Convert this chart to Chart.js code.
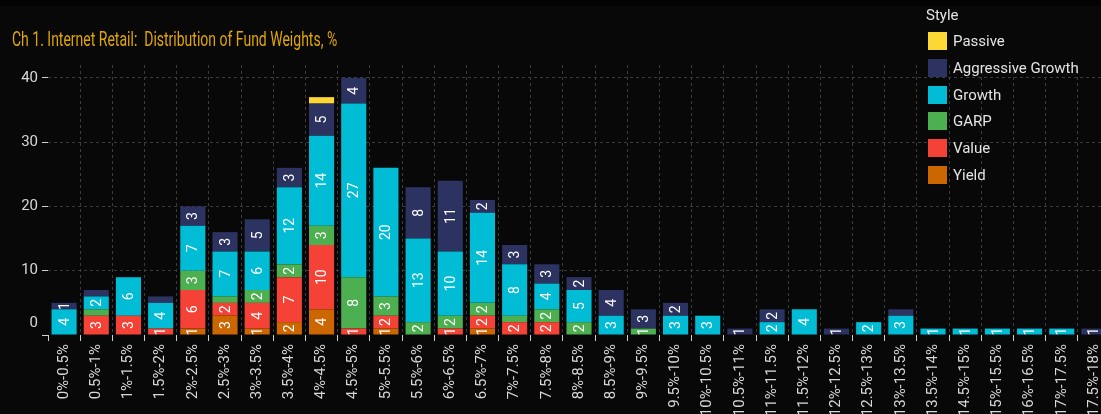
<!DOCTYPE html>
<html>
<head>
<meta charset="utf-8">
<script src="https://cdn.jsdelivr.net/npm/chart.js@4.4.0/dist/chart.umd.min.js"></script>
<style>
  html, body { margin: 0; padding: 0; background: #080808; overflow: hidden; }
  #wrap { position: relative; width: 1115px; height: 414px; }
  #topband { position: absolute; left: 0; top: 0; width: 1115px; height: 6px; background: #030303; }
  #title {
    position: absolute; left: 12px; top: 27px;
    font: 20px Roboto, sans-serif; color: #e2a600;
    white-space: nowrap; transform-origin: left top; transform: scaleX(0.70);
  }
  #legend { position: absolute; left: 925px; top: 6px; font: 15px Roboto, sans-serif; color: #e4e4e4; }
  #legend .head { height: 22px; line-height: 18px; margin-left: 1px; }
  #legend .item { display: flex; align-items: center; height: 26.7px; margin-left: 3px; }
  #legend .sw { width: 19px; height: 18px; margin-right: 6px; }
  canvas { position: absolute; left: 0; top: 0; }
</style>
</head>
<body>
<div id="wrap">
  <div id="topband"></div>
  <canvas id="fundChart" width="1115" height="414"></canvas>
  <div id="title">Ch 1. Internet Retail:&nbsp; Distribution of Fund Weights, %</div>
  <div id="legend"><div class="head">Style</div></div>
</div>
<script>
const categories = ['0%-0.5%', '0.5%-1%', '1%-1.5%', '1.5%-2%', '2%-2.5%', '2.5%-3%', '3%-3.5%',
  '3.5%-4%', '4%-4.5%', '4.5%-5%', '5%-5.5%', '5.5%-6%', '6%-6.5%', '6.5%-7%', '7%-7.5%',
  '7.5%-8%', '8%-8.5%', '8.5%-9%', '9%-9.5%', '9.5%-10%', '10%-10.5%', '10.5%-11%',
  '11%-11.5%', '11.5%-12%', '12%-12.5%', '12.5%-13%', '13%-13.5%', '13.5%-14%',
  '14.5%-15%', '15%-15.5%', '16%-16.5%', '17%-17.5%', '17.5%-18%'];

// fund counts per style, bottom of the stack first
const yieldCounts   = [0, 0, 0, 0, 1, 3, 1, 2, 4, 0, 1, 0, 0, 1, 0, 0, 0, 0, 0, 0, 0, 0, 0, 0, 0, 0, 0, 0, 0, 0, 0, 0, 0];
const valueCounts   = [0, 3, 3, 1, 6, 2, 4, 7, 10, 1, 2, 0, 1, 2, 2, 2, 0, 0, 0, 0, 0, 0, 0, 0, 0, 0, 0, 0, 0, 0, 0, 0, 0];
const garpCounts    = [0, 1, 0, 0, 3, 1, 2, 2, 3, 8, 3, 2, 2, 2, 1, 2, 2, 0, 1, 0, 0, 0, 0, 0, 0, 0, 0, 0, 0, 0, 0, 0, 0];
const growthCounts  = [4, 2, 6, 4, 7, 7, 6, 12, 14, 27, 20, 13, 10, 14, 8, 4, 5, 3, 0, 3, 3, 0, 2, 4, 0, 2, 3, 1, 1, 1, 1, 1, 0];
const aggCounts     = [1, 1, 0, 1, 3, 3, 5, 3, 5, 4, 0, 8, 11, 2, 3, 3, 2, 4, 3, 2, 0, 1, 2, 0, 1, 0, 1, 0, 0, 0, 0, 0, 1];
const passiveCounts = [0, 0, 0, 0, 0, 0, 0, 0, 1, 0, 0, 0, 0, 0, 0, 0, 0, 0, 0, 0, 0, 0, 0, 0, 0, 0, 0, 0, 0, 0, 0, 0, 0];

const yTicks = [0, 10, 20, 30, 40];

const series = [
  { label: 'Yield', data: yieldCounts, color: '#cc6600' },
  { label: 'Value', data: valueCounts, color: '#f44336' },
  { label: 'GARP', data: garpCounts, color: '#4caf50' },
  { label: 'Growth', data: growthCounts, color: '#00bcd4' },
  { label: 'Aggressive Growth', data: aggCounts, color: '#2c3361' },
  { label: 'Passive', data: passiveCounts, color: '#fdd835' }
];

// legend lists the top of the stack first
const legend = document.getElementById('legend');
series.slice().reverse().forEach(s => {
  const row = document.createElement('div');
  row.className = 'item';
  row.innerHTML = `<span class="sw" style="background:${s.color}"></span><span>${s.label}</span>`;
  legend.appendChild(row);
});

// numbers written inside the stacked segments
const segmentLabels = {
  id: 'segmentLabels',
  afterDatasetsDraw(chart) {
    const ctx = chart.ctx;
    ctx.save();
    ctx.font = '14px Roboto';
    ctx.fillStyle = '#ffffff';
    ctx.textAlign = 'center';
    ctx.textBaseline = 'middle';
    chart.data.datasets.forEach((ds, di) => {
      chart.getDatasetMeta(di).data.forEach((bar, i) => {
        const v = ds.data[i];
        if (!v) return;
        const hasBelow = chart.data.datasets.slice(0, di).some(d => d.data[i] > 0);
        // a lone 1 above the first segment gets no label, except in the first bar
        if (v < 2 && hasBelow && i > 0) return;
        const p = bar.getProps(['x', 'y', 'base'], true);
        ctx.save();
        ctx.translate(p.x + 1, (p.y + p.base) / 2);
        ctx.rotate(-Math.PI / 2);
        ctx.fillText(String(v), 0, 0);
        ctx.restore();
      });
    });
    ctx.restore();
  }
};

// the zero label sits a little above its tick
const zeroLabel = {
  id: 'zeroLabel',
  afterDraw(chart) {
    const y = chart.scales.y;
    const ctx = chart.ctx;
    ctx.save();
    ctx.font = '15px Roboto';
    ctx.fillStyle = '#d8d8d8';
    ctx.textAlign = 'right';
    ctx.textBaseline = 'middle';
    ctx.fillText('0', y.right - 10, y.getPixelForValue(0) - 12);
    ctx.restore();
  }
};

new Chart(document.getElementById('fundChart'), {
  type: 'bar',
  data: {
    labels: categories,
    datasets: series.map(s => ({
      label: s.label,
      data: s.data,
      backgroundColor: s.color,
      borderWidth: 0,
      barPercentage: 0.78,
      categoryPercentage: 1
    }))
  },
  options: {
    responsive: false,
    animation: false,
    layout: { padding: { top: 65, right: 4, left: 0, bottom: 0 } },
    plugins: {
      legend: { display: false },
      title: { display: false },
      tooltip: { enabled: false }
    },
    scales: {
      x: {
        stacked: true,
        afterFit: scale => { scale.height = 79; },
        border: { display: false, dash: [3, 3] },
        grid: {
          color: c => c.index === 0 ? 'transparent' : '#3c3c3c',
          tickColor: '#cfcfcf',
          tickLength: 6,
          offset: true
        },
        ticks: {
          autoSkip: false,
          maxRotation: 90,
          minRotation: 90,
          padding: 3,
          color: '#d8d8d8',
          font: { family: 'Roboto', size: 15 }
        }
      },
      y: {
        stacked: true,
        min: 0,
        max: 42,
        afterFit: scale => { scale.width = 48; },
        afterBuildTicks: scale => { scale.ticks = yTicks.map(v => ({ value: v })); },
        border: { display: false, dash: [3, 3] },
        grid: {
          color: c => c.tick && c.tick.value === 0 ? 'transparent' : '#3c3c3c',
          tickColor: '#cfcfcf',
          tickLength: 6
        },
        ticks: {
          padding: 4,
          color: '#d8d8d8',
          font: { family: 'Roboto', size: 15 },
          callback: v => v === 0 ? '' : v
        }
      }
    }
  },
  plugins: [segmentLabels, zeroLabel]
});
</script>
</body>
</html>
